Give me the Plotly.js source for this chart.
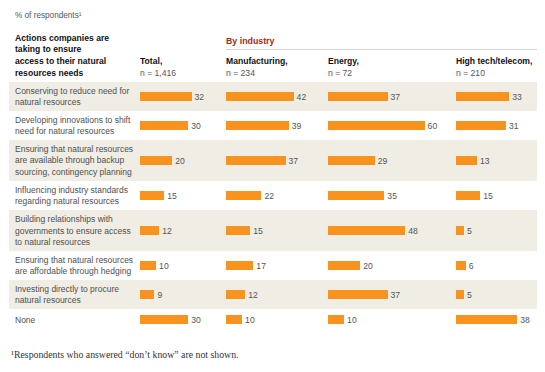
<!DOCTYPE html>
<html>
<head>
<meta charset="utf-8">
<script src="https://cdn.plot.ly/plotly-3.0.1.min.js"></script>
<style>html,body{margin:0;padding:0;background:#fff;}#chart{width:545px;height:372px;}</style>
</head>
<body>
<div id="chart"></div>
<script>
// ---- data ----
const actions = [
  "Conserving to reduce need for<br>natural resources",
  "Developing innovations to shift<br>need for natural resources",
  "Ensuring that natural resources<br>are available through backup<br>sourcing, contingency planning",
  "Influencing industry standards<br>regarding natural resources",
  "Building relationships with<br>governments to ensure access<br>to natural resources",
  "Ensuring that natural resources<br>are affordable through hedging",
  "Investing directly to procure<br>natural resources",
  "None"
];
const totalVals     = [32, 30, 20, 15, 12, 10, 9, 30];
const manufVals     = [42, 39, 37, 22, 15, 17, 12, 10];
const energyVals    = [37, 60, 29, 35, 48, 20, 37, 10];
const hightechVals  = [33, 31, 13, 15, 5, 6, 5, 38];
const columnTitles  = ["Total,", "Manufacturing,", "Energy,", "High tech/telecom,"];
const columnN       = ["n = 1,416", "n = 234", "n = 72", "n = 210"];
const rowHeader     = ["Actions companies are", "taking to ensure", "access to their natural", "resources needs"];
const unitLabel     = "% of respondents¹";
const groupLabel    = "By industry";
const footnote      = "¹Respondents who answered “don’t know” are not shown.";

// ---- layout helpers ----
const W = 545, H = 372;
const FONT = "'Liberation Sans', Arial, sans-serif";
const LABEL_COLOR = "#505050";
const BAR_COLOR = "#F7931E";
const BAND_COLOR = "#EFEDE4";
const top0 = 82, yEnd = 332;
const lineH = 12, pad = 5, minRowH = 21;

// row geometry derived from number of text lines
const rowStart = [], rowEnd = [], rowMid = [];
let cur = top0;
actions.forEach(a => {
  const n = a.split("<br>").length;
  const h = Math.max(minRowH, pad + lineH * n);
  rowStart.push(cur); rowEnd.push(cur + h); rowMid.push(cur + h / 2);
  cur += h;
});

const colStart = [140, 226, 328, 456];
const colLimit = [222, 324, 452, 540];
const pxPerUnit = 1.61;
const series = [totalVals, manufVals, energyVals, hightechVals];
const axNames = ["x", "x2", "x3", "x4"];

const traces = series.map((vals, i) => ({
  type: "bar",
  orientation: "h",
  x: vals,
  y: rowMid,
  xaxis: axNames[i],
  yaxis: "y",
  width: 9,
  marker: {color: BAR_COLOR, line: {width: 0}},
  text: vals.map(String),
  textposition: "outside",
  constraintext: "none",
  cliponaxis: false,
  textfont: {family: FONT, size: 8.6, color: "#555"},
  hoverinfo: "skip",
  showlegend: false
}));

const layout = {
  width: W, height: H,
  margin: {l: 0, r: 0, t: 0, b: 0, pad: 0},
  paper_bgcolor: "#fff",
  plot_bgcolor: "rgba(0,0,0,0)",
  showlegend: false,
  bargap: 0,
  yaxis: {
    domain: [1 - yEnd / H, 1 - top0 / H],
    range: [yEnd, top0],
    visible: false, fixedrange: true
  },
  shapes: [],
  annotations: []
};
axNames.forEach((ax, i) => {
  const key = i === 0 ? "xaxis" : "xaxis" + (i + 1);
  const w = colLimit[i] - colStart[i];
  layout[key] = {
    domain: [colStart[i] / W, colLimit[i] / W],
    range: [0, w / pxPerUnit],
    anchor: "y",
    visible: false, fixedrange: true
  };
});

// shaded bands on alternate rows
actions.forEach((a, i) => {
  if (i % 2 === 0 && i < actions.length - 1) {
    layout.shapes.push({
      type: "rect", layer: "below", xref: "paper", yref: "y",
      x0: 9 / W, x1: 537 / W, y0: rowStart[i], y1: rowEnd[i],
      fillcolor: BAND_COLOR, line: {width: 0}
    });
  }
});
// rule under "By industry"
layout.shapes.push({
  type: "line", xref: "paper", yref: "paper",
  x0: 226 / W, x1: 537 / W, y0: 1 - 49.5 / H, y1: 1 - 49.5 / H,
  line: {color: "#d4d4d4", width: 1}
});

function ann(text, xpx, ypx, font, extra) {
  layout.annotations.push(Object.assign({
    text: text, xref: "paper", yref: "paper",
    x: xpx / W, y: 1 - ypx / H,
    xanchor: "left", yanchor: "middle", showarrow: false,
    font: font
  }, extra || {}));
}

// row labels, one annotation per line
const rowFont = {family: FONT, size: 8.5, color: LABEL_COLOR};
actions.forEach((a, i) => {
  const lines = a.split("<br>");
  lines.forEach((ln, j) => {
    const y = rowMid[i] + (j - (lines.length - 1) / 2) * 11.6;
    ann(ln, 13, y, rowFont);
  });
});

// headers
ann(unitLabel, 13, 16, {family: FONT, size: 8.2, color: "#555"});
const hdrFont = {family: FONT, size: 8.6, color: "#111", weight: "bold"};
rowHeader.forEach((ln, j) => ann("<b>" + ln + "</b>", 13, 37.5 + j * 11.8, hdrFont));
columnTitles.forEach((t, i) => {
  ann("<b>" + t + "</b>", colStart[i] - 2, 61.5, hdrFont);
  ann(columnN[i], colStart[i] - 2, 73, {family: FONT, size: 8.6, color: "#555"});
});
ann("<b>" + groupLabel + "</b>", 224, 40.5, {family: FONT, size: 8.8, color: "#9E2B20"});
ann(footnote, 9, 354, {family: "'Liberation Serif', 'DejaVu Serif', serif", size: 9.8, color: "#333"});

Plotly.newPlot("chart", traces, layout, {displayModeBar: false, staticPlot: true});
</script>
</body>
</html>
